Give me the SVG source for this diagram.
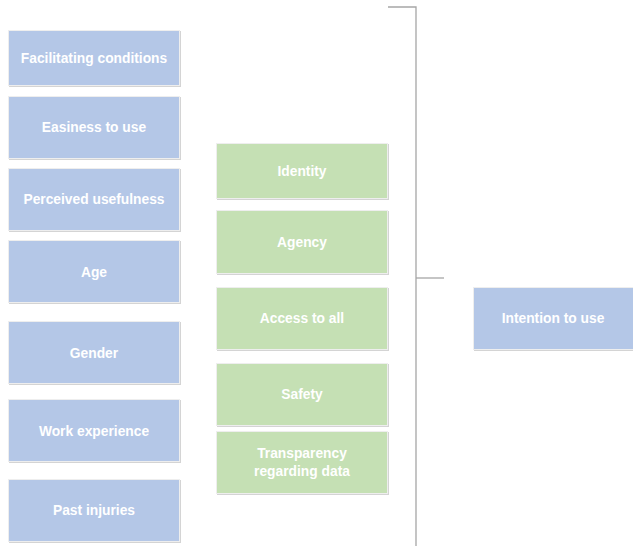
<svg xmlns="http://www.w3.org/2000/svg" width="633" height="546" viewBox="0 0 633 546">
<style>
.sh{fill:#d4d4d4}
.b{fill:#b4c7e7;stroke:#eeeeee;stroke-width:1}
.g{fill:#c5e0b4;stroke:#eeeeee;stroke-width:1}
.t{font-family:"Liberation Sans",Arial,sans-serif;font-weight:bold;font-size:13.8px;fill:#ffffff;text-anchor:middle;dominant-baseline:central}
.c{fill:none;stroke:#a6a6a6;stroke-width:1.3}
</style>
<rect width="633" height="546" fill="#ffffff"/>
<g id="connectors">
<polyline class="c" points="388,7 416,7 416,546"/>
<line class="c" x1="416" y1="278" x2="444" y2="278"/>
</g>
<g id="n1"><rect class="sh" x="9" y="31" width="172" height="56"/><rect class="b" x="8.5" y="30.5" width="171" height="55"/><text class="t" x="94" y="58">Facilitating conditions</text></g>
<g id="n2"><rect class="sh" x="9" y="97" width="172" height="63"/><rect class="b" x="8.5" y="96.5" width="171" height="62"/><text class="t" x="94" y="127">Easiness to use</text></g>
<g id="n3"><rect class="sh" x="9" y="169" width="172" height="63"/><rect class="b" x="8.5" y="168.5" width="171" height="62"/><text class="t" x="94" y="199">Perceived usefulness</text></g>
<g id="n4"><rect class="sh" x="9" y="241" width="172" height="63"/><rect class="b" x="8.5" y="240.5" width="171" height="62"/><text class="t" x="94" y="272">Age</text></g>
<g id="n5"><rect class="sh" x="9" y="322" width="172" height="63"/><rect class="b" x="8.5" y="321.5" width="171" height="62"/><text class="t" x="94" y="353">Gender</text></g>
<g id="n6"><rect class="sh" x="9" y="400" width="172" height="63"/><rect class="b" x="8.5" y="399.5" width="171" height="62"/><text class="t" x="94" y="431">Work experience</text></g>
<g id="n7"><rect class="sh" x="9" y="480" width="172" height="63"/><rect class="b" x="8.5" y="479.5" width="171" height="62"/><text class="t" x="94" y="510">Past injuries</text></g>
<g id="g1"><rect class="sh" x="217" y="144" width="172" height="56"/><rect class="g" x="216.5" y="143.5" width="171" height="55"/><text class="t" x="302" y="171">Identity</text></g>
<g id="g2"><rect class="sh" x="217" y="211" width="172" height="64"/><rect class="g" x="216.5" y="210.5" width="171" height="63"/><text class="t" x="302" y="242">Agency</text></g>
<g id="g3"><rect class="sh" x="217" y="288" width="172" height="63"/><rect class="g" x="216.5" y="287.5" width="171" height="62"/><text class="t" x="302" y="318">Access to all</text></g>
<g id="g4"><rect class="sh" x="217" y="364" width="172" height="63"/><rect class="g" x="216.5" y="363.5" width="171" height="62"/><text class="t" x="302" y="394">Safety</text></g>
<g id="g5"><rect class="sh" x="217" y="432" width="172" height="63"/><rect class="g" x="216.5" y="431.5" width="171" height="62"/><text class="t" x="302" y="453">Transparency</text><text class="t" x="302" y="471">regarding data</text></g>
<g id="out"><rect class="sh" x="474" y="288" width="160" height="63"/><rect class="b" x="473.5" y="287.5" width="160" height="62"/><text class="t" x="553" y="318">Intention to use</text></g>
</svg>
